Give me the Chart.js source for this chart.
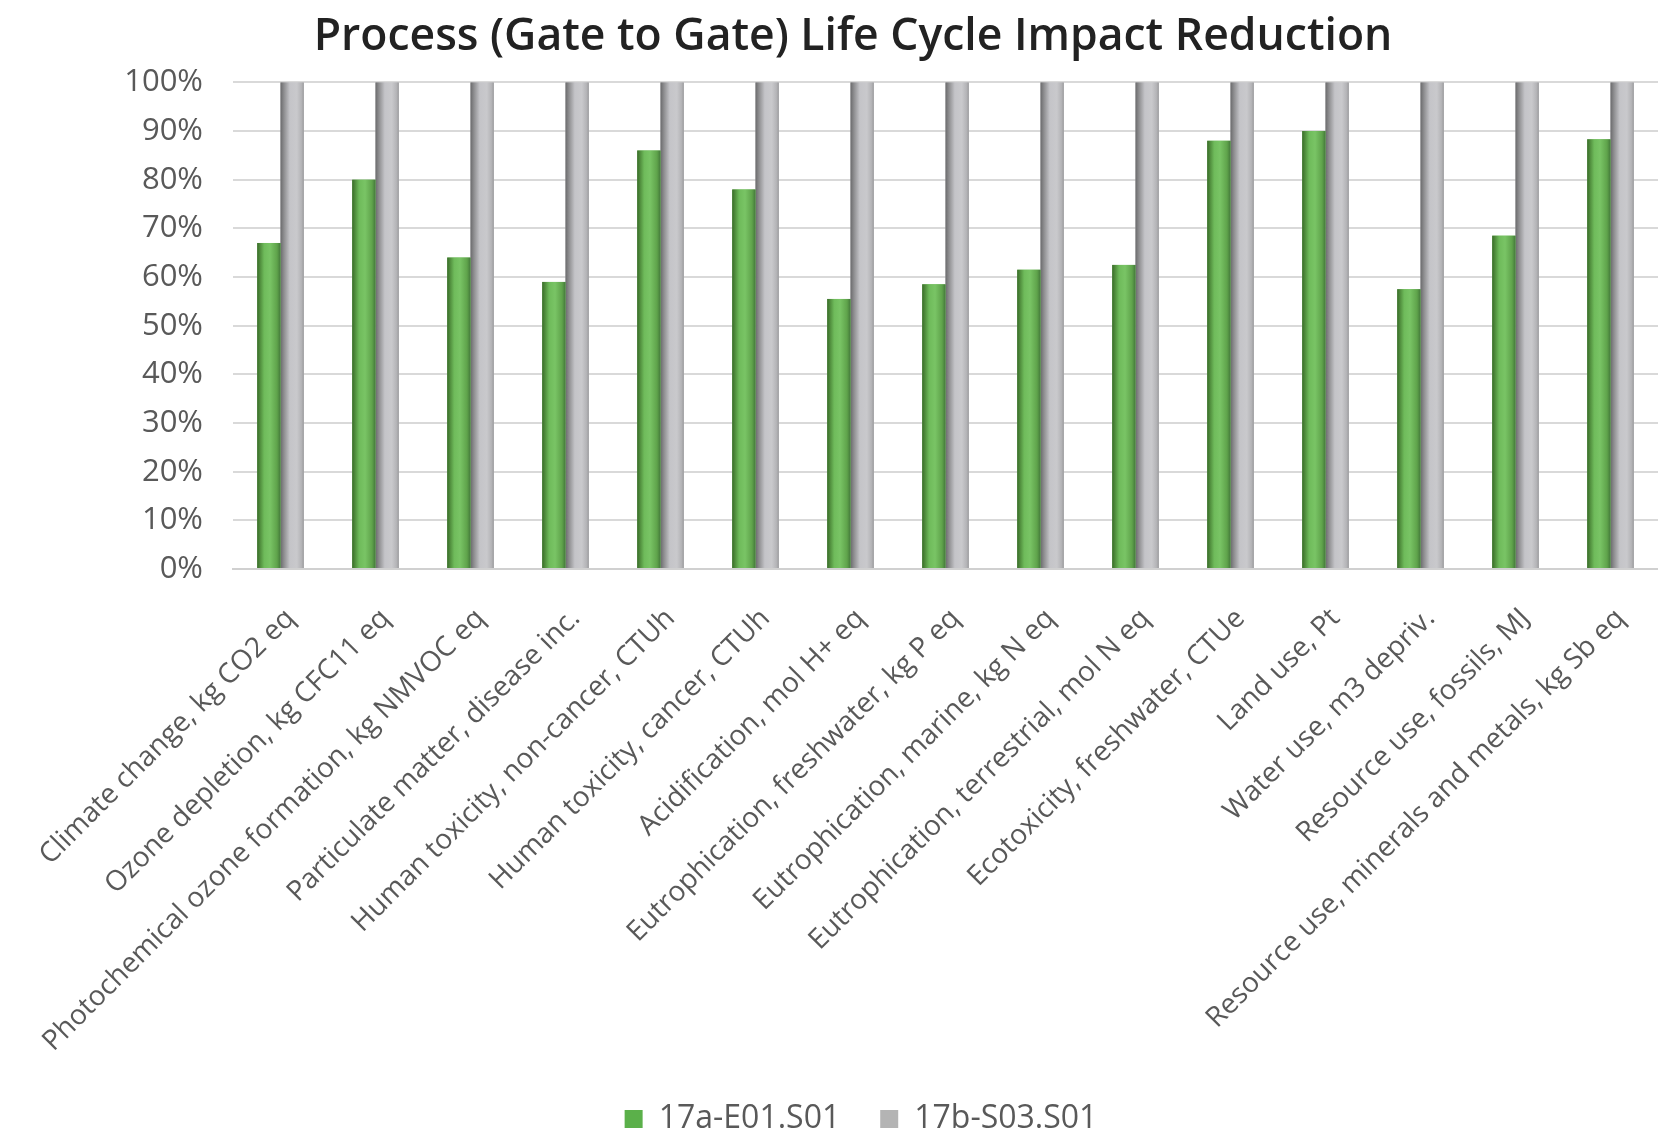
<!DOCTYPE html>
<html>
<head>
<meta charset="utf-8">
<script src="https://cdn.jsdelivr.net/npm/chart.js@4/dist/chart.umd.min.js"></script>
<style>
  html, body { margin: 0; padding: 0; background: #ffffff; }
  #wrap { width: 1658px; height: 1137px; position: relative; }
</style>
</head>
<body>
<div id="wrap"><canvas id="chart"></canvas></div>
<script>
// Impact categories (EF method indicators)
const categories = [
  "Climate change, kg CO2 eq",
  "Ozone depletion, kg CFC11 eq",
  "Photochemical ozone formation, kg NMVOC eq",
  "Particulate matter, disease inc.",
  "Human toxicity, non-cancer, CTUh",
  "Human toxicity, cancer, CTUh",
  "Acidification, mol H+ eq",
  "Eutrophication, freshwater, kg P eq",
  "Eutrophication, marine, kg N eq",
  "Eutrophication, terrestrial, mol N eq",
  "Ecotoxicity, freshwater, CTUe",
  "Land use, Pt",
  "Water use, m3 depriv.",
  "Resource use, fossils, MJ",
  "Resource use, minerals and metals, kg Sb eq"
];

// Relative impact, % of the reference process
const seriesA = [67, 80, 64, 59, 86, 78, 55.5, 58.5, 61.5, 62.5, 88, 90, 57.5, 68.5, 88.3];
const seriesB = [100, 100, 100, 100, 100, 100, 100, 100, 100, 100, 100, 100, 100, 100, 100];

const seriesNames = ["17a-E01.S01", "17b-S03.S01"];
const yTicks = [0, 10, 20, 30, 40, 50, 60, 70, 80, 90, 100];

const FONT = "'Open Sans', 'DejaVu Sans', sans-serif";
const TEXT = "#595959";

// Cylinder-like horizontal shading for each bar
const shades = [
  [[0, "#3a6b2a"], [0.12, "#4f8c3c"], [0.3, "#6fbb5b"], [0.55, "#79c465"], [0.85, "#5fa34b"], [1, "#43783a"]],
  [[0, "#6a6a6c"], [0.15, "#8e8e90"], [0.4, "#c4c4c8"], [0.7, "#c9c9cc"], [0.9, "#b4b4b7"], [1, "#9c9c9e"]]
];

const barShading = {
  id: "barShading",
  afterDatasetDraw(chart, args) {
    const { ctx } = chart;
    const meta = args.meta;
    const stops = shades[args.index];
    ctx.save();
    meta.data.forEach(el => {
      const p = el.getProps(["x", "y", "base", "width"], true);
      const left = p.x - p.width / 2, right = p.x + p.width / 2;
      const g = ctx.createLinearGradient(left, 0, right, 0);
      stops.forEach(s => g.addColorStop(s[0], s[1]));
      ctx.fillStyle = g;
      ctx.fillRect(left, Math.min(p.y, p.base), p.width, Math.abs(p.base - p.y));
    });
    ctx.restore();
  }
};

// Fine placement of title and legend blocks; let the long
// category labels run down to the bottom of the canvas
const blockOffsets = {
  id: "blockOffsets",
  afterLayout(chart) {
    const lg = chart.legend;
    if (lg) { lg.left += 32; lg.right += 32; lg.top += 8; lg.bottom += 8; }
    const tb = chart.titleBlock;
    if (tb) { tb.left += 24; tb.right += 24; }
    const xs = chart.scales.x;
    if (xs) { xs.bottom = chart.height; }
  }
};

new Chart(document.getElementById("chart"), {
  type: "bar",
  data: {
    labels: categories,
    datasets: [
      { label: seriesNames[0], data: seriesA, backgroundColor: "#6ab656", borderWidth: 0 },
      { label: seriesNames[1], data: seriesB, backgroundColor: "#b5b5b8", borderWidth: 0 }
    ]
  },
  options: {
    responsive: true,
    maintainAspectRatio: false,
    animation: false,
    devicePixelRatio: 1,
    layout: { padding: { left: 0, right: 0, top: 0, bottom: 0 } },
    datasets: { bar: { categoryPercentage: 0.49, barPercentage: 1.0 } },
    plugins: {
      title: {
        display: true,
        text: "Process (Gate to Gate) Life Cycle Impact Reduction",
        color: "#222222",
        font: { family: FONT, size: 44.5, weight: "600" },
        padding: { top: 11, bottom: 18 }
      },
      legend: {
        display: true,
        position: "bottom",
        labels: {
          color: TEXT,
          font: { family: FONT, size: 32 },
          boxWidth: 18,
          boxHeight: 18,
          padding: 40,
          generateLabels(chart) {
            const fills = ["#5bb04a", "#b4b4b4"];
            return chart.data.datasets.map((d, i) => ({
              text: d.label, fillStyle: fills[i], strokeStyle: fills[i],
              lineWidth: 0, hidden: false, datasetIndex: i, fontColor: TEXT
            }));
          }
        }
      },
      tooltip: { enabled: false }
    },
    scales: {
      x: {
        grid: { display: false, drawTicks: false },
        border: { display: true, color: "#d0d0d0", width: 2 },
        ticks: {
          color: TEXT,
          font: { family: FONT, size: 28 },
          minRotation: 45,
          maxRotation: 45,
          autoSkip: false,
          padding: 33,
          labelOffset: 10
        },
        afterFit(scale) {
          scale.height = 486;
          scale.paddingLeft = 0;
          scale.paddingRight = 0;
        }
      },
      y: {
        min: 0,
        max: 100,
        afterBuildTicks(scale) { scale.ticks = yTicks.map(v => ({ value: v })); },
        grid: { color: "#d9d9d9", lineWidth: 2, drawTicks: false },
        border: { display: false },
        ticks: {
          color: TEXT,
          font: { family: FONT, size: 31 },
          padding: 30,
          callback: v => v + "%"
        },
        afterFit(scale) { scale.width = 233; }
      }
    }
  },
  plugins: [barShading, blockOffsets]
});
</script>
</body>
</html>
